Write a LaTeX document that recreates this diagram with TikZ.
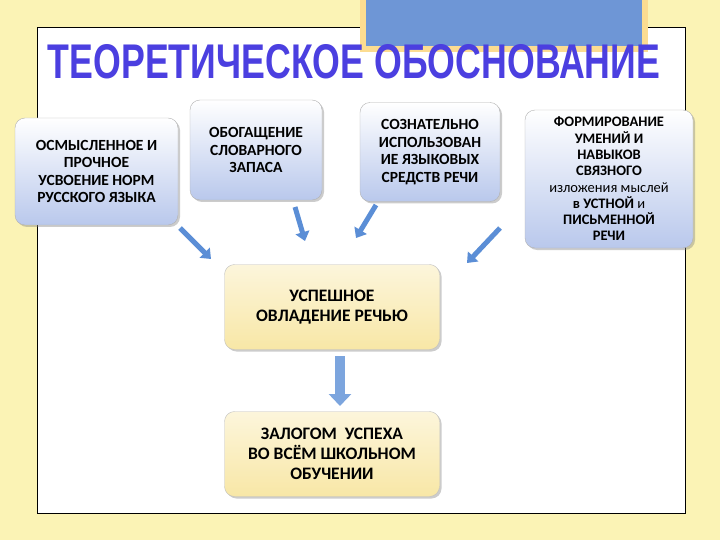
\documentclass[tikz,border=0pt]{standalone}
\usepackage{fontspec}
\setmainfont{Carlito}
\newfontfamily\ttlfont{Liberation Sans}
\usetikzlibrary{shadows,arrows.meta,positioning}
\definecolor{bgy}{HTML}{FBF3B5}
\definecolor{boxb}{HTML}{B9C8EC}
\definecolor{boxy}{HTML}{F8E7A6}
\definecolor{arrb}{HTML}{5B8ED6}
\definecolor{ttl}{HTML}{4B3FE0}
\definecolor{topb}{HTML}{6E96D6}
\tikzset{
 bbox/.style={rounded corners=10pt, draw=gray!60, top color=white, bottom color=boxb, drop shadow={shadow xshift=2pt,shadow yshift=-2pt,opacity=.4}, align=center, font=\bfseries\fontsize{15.5}{17.5}\selectfont, inner sep=2pt},
 ybox/.style={rounded corners=10pt, draw=gray!50, top color=white!60!boxy, bottom color=boxy, middle color=white!30!boxy, drop shadow={shadow xshift=2pt,shadow yshift=-2pt,opacity=.4}, align=center, font=\bfseries\fontsize{17.5}{20}\selectfont, inner sep=2pt},
 barr/.style={line width=5pt, draw=arrb, -{Triangle[length=9pt,width=14pt]}}
}
\begin{document}
\begin{tikzpicture}[x=1pt,y=-1pt]
\fill[bgy] (0,0) rectangle (720,540);
\draw[black,fill=white,line width=0.8pt] (37,27) rectangle (685,513);
\fill[bgy!80!orange] (360,0) rectangle (648,52);
\fill[topb] (366,0) rectangle (642,46);
\node (title) at (354,62) {\resizebox{612pt}{34pt}{\ttlfont\bfseries\color{ttl}ТЕОРЕТИЧЕСКОЕ ОБОСНОВАНИЕ}};
\node[bbox, minimum width=163pt, minimum height=107pt] (b1) at (96.5,171.5) {ОСМЫСЛЕННОЕ И\\ПРОЧНОЕ\\УСВОЕНИЕ НОРМ\\РУССКОГО ЯЗЫКА};
\node[bbox, minimum width=132pt, minimum height=100pt] (b2) at (256,150) {ОБОГАЩЕНИЕ\\СЛОВАРНОГО\\ЗАПАСА};
\node[bbox, minimum width=140pt, minimum height=99pt] (b3) at (430,152) {СОЗНАТЕЛЬНО\\ИСПОЛЬЗОВАН\\ИЕ ЯЗЫКОВЫХ\\СРЕДСТВ РЕЧИ};
\node[bbox, minimum width=168pt, minimum height=138pt, font=\bfseries\fontsize{14.5}{16.3}\selectfont] (b4) at (609,179) {ФОРМИРОВАНИЕ\\УМЕНИЙ И\\НАВЫКОВ\\СВЯЗНОГО\\{\mdseries изложения мыслей}\\в УСТНОЙ {\mdseries и}\\ПИСЬМЕННОЙ\\РЕЧИ};
\node[ybox, minimum width=215pt, minimum height=85pt] (c1) at (332,307) {УСПЕШНОЕ\\ОВЛАДЕНИЕ РЕЧЬЮ};
\node[ybox, minimum width=215pt, minimum height=85pt] (c2) at (332,454) {ЗАЛОГОМ\ \ УСПЕХА\\ВО ВСЁМ ШКОЛЬНОМ\\ОБУЧЕНИИ};
\coordinate (a1s) at (180,228); \coordinate (a1e) at (211,259);
\coordinate (a2s) at (295,207); \coordinate (a2e) at (305,241);
\coordinate (a3s) at (376,205); \coordinate (a3e) at (356,238);
\coordinate (a4s) at (500,228); \coordinate (a4e) at (467,263);
\coordinate (a5s) at (340,356); \coordinate (a5e) at (340,406);
\draw[barr] (a1s) -- (a1e);
\draw[barr] (a2s) -- (a2e);
\draw[barr] (a3s) -- (a3e);
\draw[barr] (a4s) -- (a4e);
\draw[line width=10pt, draw=arrb!80, -{Triangle[length=12pt,width=22pt]}] (a5s) -- (a5e);
\end{tikzpicture}
\end{document}
